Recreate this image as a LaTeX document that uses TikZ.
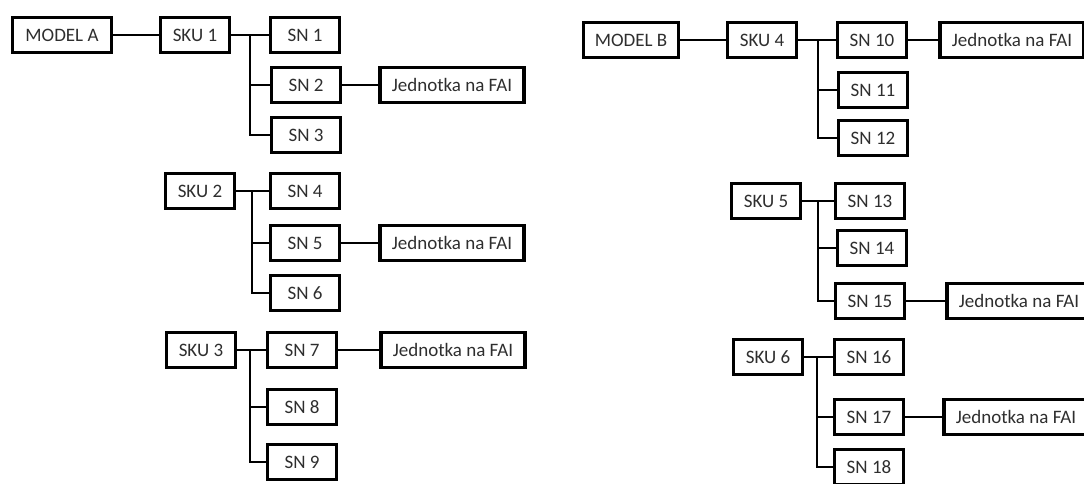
\documentclass[tikz,border=0pt]{standalone}
\usepackage{fontspec}
\setmainfont{Carlito}
\begin{document}
\begin{tikzpicture}[x=1pt,y=-1pt]
  \useasboundingbox (0,0) rectangle (1084,483);
  \clip (0,0) rectangle (1084,483);

        \begin{scope}[every node/.style={draw, line width=3.4pt, inner sep=0pt,
            minimum width=69pt, minimum height=35pt, text=black!82,
            font=\fontsize{19}{22}\selectfont}]
          % model A
          \node[minimum width=99pt] (ma) at (62,35) {MODEL A};
          \node (sku1) at (195,35)  {SKU 1};
          \node (sn1)  at (305,35)  {SN 1};
          \node (sn2)  at (306,85)  {SN 2};
          \node (sn3)  at (306,135) {SN 3};
          \node[minimum width=144pt] (fai1) at (452,85) {Jednotka na FAI};
          \node (sku2) at (200,191) {SKU 2};
          \node (sn4)  at (305,191) {SN 4};
          \node (sn5)  at (305,243) {SN 5};
          \node (sn6)  at (305,293) {SN 6};
          \node[minimum width=144pt] (fai2) at (452,243) {Jednotka na FAI};
          \node (sku3) at (201,350) {SKU 3};
          \node (sn7)  at (302,350) {SN 7};
          \node (sn8)  at (302,407) {SN 8};
          \node (sn9)  at (302,462) {SN 9};
          \node[minimum width=144pt] (fai3) at (453,350) {Jednotka na FAI};
          % model B
          \node[minimum width=95pt] (mb) at (631,40) {MODEL B};
          \node (sku4) at (762,40)  {SKU 4};
          \node (sn10) at (872,40)  {SN 10};
          \node (sn11) at (873,90)  {SN 11};
          \node (sn12) at (873,138) {SN 12};
          \node[minimum width=144pt] (fai4) at (1012,40) {Jednotka na FAI};
          \node (sku5) at (766,201) {SKU 5};
          \node (sn13) at (870,201) {SN 13};
          \node (sn14) at (872,248) {SN 14};
          \node (sn15) at (870,301) {SN 15};
          \node[minimum width=144pt] (fai5) at (1019,301) {Jednotka na FAI};
          \node (sku6) at (768,357) {SKU 6};
          \node (sn16) at (869,357) {SN 16};
          \node (sn17) at (869,417) {SN 17};
          \node (sn18) at (869,467) {SN 18};
          \node[minimum width=144pt] (fai6) at (1016,417) {Jednotka na FAI};
        \end{scope}

        \coordinate (t1) at (250,35);
        \coordinate (t2) at (252,191);
        \coordinate (t3) at (250,350);
        \coordinate (t4) at (818,40);
        \coordinate (t5) at (818,201);
        \coordinate (t6) at (817,357);

        \begin{scope}[every edge/.style={draw, line width=2pt}]
          \path (ma)   edge (sku1);
          \path (sku1) edge (sn1);
          \path (sn2)  edge (fai1);
          \path (sku2) edge (sn4);
          \path (sn5)  edge (fai2);
          \path (sku3) edge (sn7);
          \path (sn7)  edge (fai3);
          \path (mb)   edge (sku4);
          \path (sku4) edge (sn10);
          \path (sn10) edge (fai4);
          \path (sku5) edge (sn13);
          \path (sn15) edge (fai5);
          \path (sku6) edge (sn16);
          \path (sn17) edge (fai6);
        \end{scope}

        \begin{scope}[line width=2pt]
          \draw (t1) |- (sn2);
          \draw (t1) |- (sn3);
          \draw (t2) |- (sn5);
          \draw (t2) |- (sn6);
          \draw (t3) |- (sn8);
          \draw (t3) |- (sn9);
          \draw (t4) |- (sn11);
          \draw (t4) |- (sn12);
          \draw (t5) |- (sn14);
          \draw (t5) |- (sn15);
          \draw (t6) |- (sn17);
          \draw (t6) |- (sn18);
        \end{scope}

      \end{tikzpicture}
\end{document}
